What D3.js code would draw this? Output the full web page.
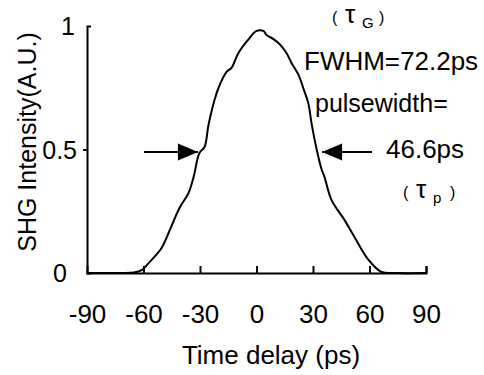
<!DOCTYPE html>
<html>
<head>
<meta charset="utf-8">
<script src="https://cdn.jsdelivr.net/npm/d3@7"></script>
<style>
  body { margin: 0; background: #fff; }
  svg text { font-family: "Liberation Sans", Arial, sans-serif; fill: #000; }
</style>
</head>
<body>
<svg id="shg-svg" width="484" height="375"></svg>
<script>
// Data
const delayPs = [-90, -72, -65, -61, -57.3, -50.4, -46.7, -40.9, -36.1, -33.4, -30.3, -27.6, -25.5, -22.3, -20.2, -15.9, -13.3, -9.6, -3.7, 0, 3.7, 5.3, 9, 12.2, 15.9, 18.6, 22.3, 25, 27.6, 29.2, 31.9, 34.5, 36.1, 39.8, 46.7, 52, 59.5, 66.4, 74.3, 90];
const intensity = [0, 0, 0.002, 0.012, 0.04, 0.101, 0.162, 0.263, 0.324, 0.389, 0.486, 0.51, 0.599, 0.7, 0.749, 0.814, 0.83, 0.891, 0.951, 0.98, 0.98, 0.964, 0.947, 0.927, 0.891, 0.85, 0.802, 0.745, 0.684, 0.607, 0.502, 0.421, 0.389, 0.296, 0.215, 0.146, 0.053, 0.004, 0, 0];
const xTicks = [-90, -60, -30, 0, 30, 60, 90];
const yTicks = [0, 0.5, 1];
const arrowsData = [
  { from: -59.7, to: -31.1, y: 0.49 },
  { from: 61.3, to: 34.8, y: 0.49 },
];

// Draws "( τ sub )" with spaced parentheses
const drawTau = (svg, x, y, sub) => {
  const g = svg.append("g").attr("transform", `translate(${x},${y})`);
  g.append("text").attr("x", 0).attr("y", 0).style("font-size", "16px").text("(");
  g.append("text").attr("x", 13).attr("y", 0).style("font-size", "26px").text("τ");
  g.append("text").attr("x", 30).attr("y", 5).style("font-size", "15px").text(sub);
  g.append("text").attr("x", 47).attr("y", 0).style("font-size", "16px").text(")");
};

const drawShgChart = () => {
  const svg = d3.select("#shg-svg");

  // Scales
  const xScale = d3.scaleLinear().domain([-90, 90]).range([87, 426]);
  const yScale = d3.scaleLinear().domain([0, 1]).range([273, 26]);

  // X Axis
  const xAxis = d3
    .axisBottom(xScale)
    .tickValues(xTicks)
    .tickFormat((d) => d)
    .tickSize(-7)
    .tickSizeOuter(-7)
    .tickPadding(0);
  const gx = svg
    .append("g")
    .attr("id", "x-axis")
    .attr("transform", `translate(0,${yScale(0)})`)
    .call(xAxis);
  gx.selectAll("text")
    .attr("y", 50)
    .attr("dy", 0)
    .style("font-size", "26px");
  gx.select(".tick:first-of-type line").remove();

  // Y Axis
  const yAxis = d3
    .axisLeft(yScale)
    .tickValues(yTicks)
    .tickFormat((d) => d)
    .tickSize(4)
    .tickSizeOuter(-4)
    .tickPadding(6);
  const gy = svg
    .append("g")
    .attr("id", "y-axis")
    .attr("transform", `translate(${xScale(-90)},0)`)
    .call(yAxis);
  gy.selectAll("text").style("font-size", "25px").attr("dy", "0.35em");
  gy.selectAll(".tick")
    .filter((d) => d !== 0.5)
    .select("line")
    .remove();
  gy.selectAll(".tick")
    .filter((d) => d === 0)
    .select("text")
    .attr("x", -20);
  gy.selectAll(".tick")
    .filter((d) => d === 1)
    .select("text")
    .attr("x", -12);

  svg.selectAll(".domain, .tick line")
    .attr("stroke", "#000")
    .attr("stroke-width", 2);

  // Create Line
  const points = delayPs.map((d, i) => ({ x: d, y: intensity[i] }));
  const line = d3
    .line()
    .x((d) => xScale(d.x))
    .y((d) => yScale(d.y))
    .curve(d3.curveCatmullRom);
  svg
    .append("path")
    .datum(points)
    .attr("d", line)
    .attr("fill", "none")
    .attr("stroke", "#000")
    .attr("stroke-width", 2)
    .attr("stroke-linejoin", "round");

  // Arrows
  const headLen = 20;
  const headHalf = 8.5;
  const arrows = svg.selectAll(".arrow").data(arrowsData).enter().append("g").classed("arrow", true);
  arrows
    .append("line")
    .attr("x1", (d) => xScale(d.from))
    .attr("x2", (d) => xScale(d.to))
    .attr("y1", (d) => yScale(d.y))
    .attr("y2", (d) => yScale(d.y))
    .attr("stroke", "#000")
    .attr("stroke-width", 2);
  arrows
    .append("path")
    .attr("d", (d) => {
      const tx = xScale(d.to);
      const ty = yScale(d.y);
      const dir = d.to > d.from ? -1 : 1;
      return `M${tx},${ty} L${tx + dir * headLen},${ty - headHalf} L${tx + dir * headLen},${ty + headHalf} Z`;
    })
    .attr("fill", "#000");

  // Annotations
  drawTau(svg, 332, 23, "G");
  svg.append("text").attr("x", 304).attr("y", 70).style("font-size", "26px").text("FWHM=72.2ps");
  svg.append("text").attr("x", 315).attr("y", 112).style("font-size", "25px").text("pulsewidth=");
  svg.append("text").attr("x", 386).attr("y", 158).style("font-size", "26px").text("46.6ps");
  drawTau(svg, 403, 198, "p");

  // Axis Titles
  svg
    .append("text")
    .attr("x", 271)
    .attr("y", 364)
    .attr("text-anchor", "middle")
    .style("font-size", "26px")
    .text("Time delay (ps)");
  svg
    .append("text")
    .attr("transform", "translate(36,142) rotate(-90)")
    .attr("text-anchor", "middle")
    .style("font-size", "25px")
    .text("SHG Intensity(A.U.)");
};

drawShgChart();
</script>
</body>
</html>
